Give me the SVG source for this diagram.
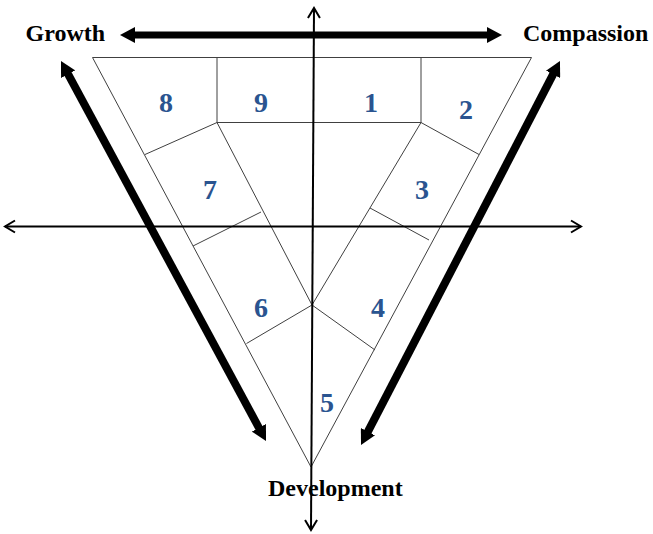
<svg xmlns="http://www.w3.org/2000/svg" width="653" height="534" viewBox="0 0 653 534">
<style>
  .thin { fill: none; stroke: #404040; stroke-width: 1; }
  .axis { fill: none; stroke: #000; stroke-width: 2; }
  .thick { fill: none; stroke: #000; stroke-width: 7; }
  .diag { fill: none; stroke: #000; stroke-width: 8; }
  .num { font-family: "Liberation Serif", "Times New Roman", serif; font-weight: bold; font-size: 28px; fill: #2A5490; text-anchor: middle; }
  .lbl { font-family: "Liberation Serif", "Times New Roman", serif; font-weight: bold; font-size: 24px; fill: #000; }
</style>
<defs>
  <marker id="open" markerUnits="userSpaceOnUse" markerWidth="14" markerHeight="16" viewBox="0 0 14 16" refX="11" refY="8" orient="auto-start-reverse">
    <path d="M1,2 L11,8 L1,14" fill="none" stroke="#000" stroke-width="2"/>
  </marker>
  <marker id="solid" markerUnits="userSpaceOnUse" markerWidth="15" markerHeight="16" viewBox="0 0 15 16" refX="4" refY="8" orient="auto-start-reverse">
    <path d="M0,0 L15,8 L0,16 z" fill="#000"/>
  </marker>
</defs>
<rect width="653" height="534" fill="#fff"/>

<g id="triangle">
  <polygon class="thin" points="92.5,57.5 531.5,57.5 311,467"/>
  <polyline class="thin" points="217,57.5 217,122.5 421,122.5 421,57.5"/>
  <polyline class="thin" points="217,122.5 312,305 421,122.5"/>
  <line class="thin" x1="217" y1="122.5" x2="145" y2="154.5"/>
  <line class="thin" x1="421" y1="122.5" x2="479" y2="154.5"/>
  <line class="thin" x1="193" y1="246" x2="261" y2="212"/>
  <line class="thin" x1="370" y1="208" x2="429" y2="240"/>
  <line class="thin" x1="312" y1="305" x2="246.5" y2="343.5"/>
  <line class="thin" x1="312" y1="305" x2="375" y2="350"/>
</g>

<g id="cell-1"><text class="num" x="371" y="112">1</text></g>
<g id="cell-2"><text class="num" x="466" y="119">2</text></g>
<g id="cell-3"><text class="num" x="422" y="199">3</text></g>
<g id="cell-4"><text class="num" x="378" y="317">4</text></g>
<g id="cell-5"><text class="num" x="327" y="412">5</text></g>
<g id="cell-6"><text class="num" x="261" y="317">6</text></g>
<g id="cell-7"><text class="num" x="210" y="199">7</text></g>
<g id="cell-8"><text class="num" x="166" y="112">8</text></g>
<g id="cell-9"><text class="num" x="261" y="112">9</text></g>

<g id="connectors">
  <line class="axis" x1="314" y1="8" x2="311" y2="530" marker-start="url(#open)" marker-end="url(#open)"/>
  <line class="axis" x1="5" y1="226.5" x2="581" y2="226.5" marker-start="url(#open)" marker-end="url(#open)"/>
  <line class="thick" x1="131" y1="35" x2="491" y2="35" marker-start="url(#solid)" marker-end="url(#solid)"/>
  <line class="diag" x1="66.2" y1="70.7" x2="260.8" y2="431.3" marker-start="url(#solid)" marker-end="url(#solid)"/>
  <line class="diag" x1="554.9" y1="70.8" x2="366.1" y2="435.2" marker-start="url(#solid)" marker-end="url(#solid)"/>
</g>

<g id="label-growth"><text class="lbl" x="25.5" y="40.5">Growth</text></g>
<g id="label-compassion"><text class="lbl" x="523" y="40.5">Compassion</text></g>
<g id="label-development"><text class="lbl" x="268" y="496">Development</text></g>
</svg>
